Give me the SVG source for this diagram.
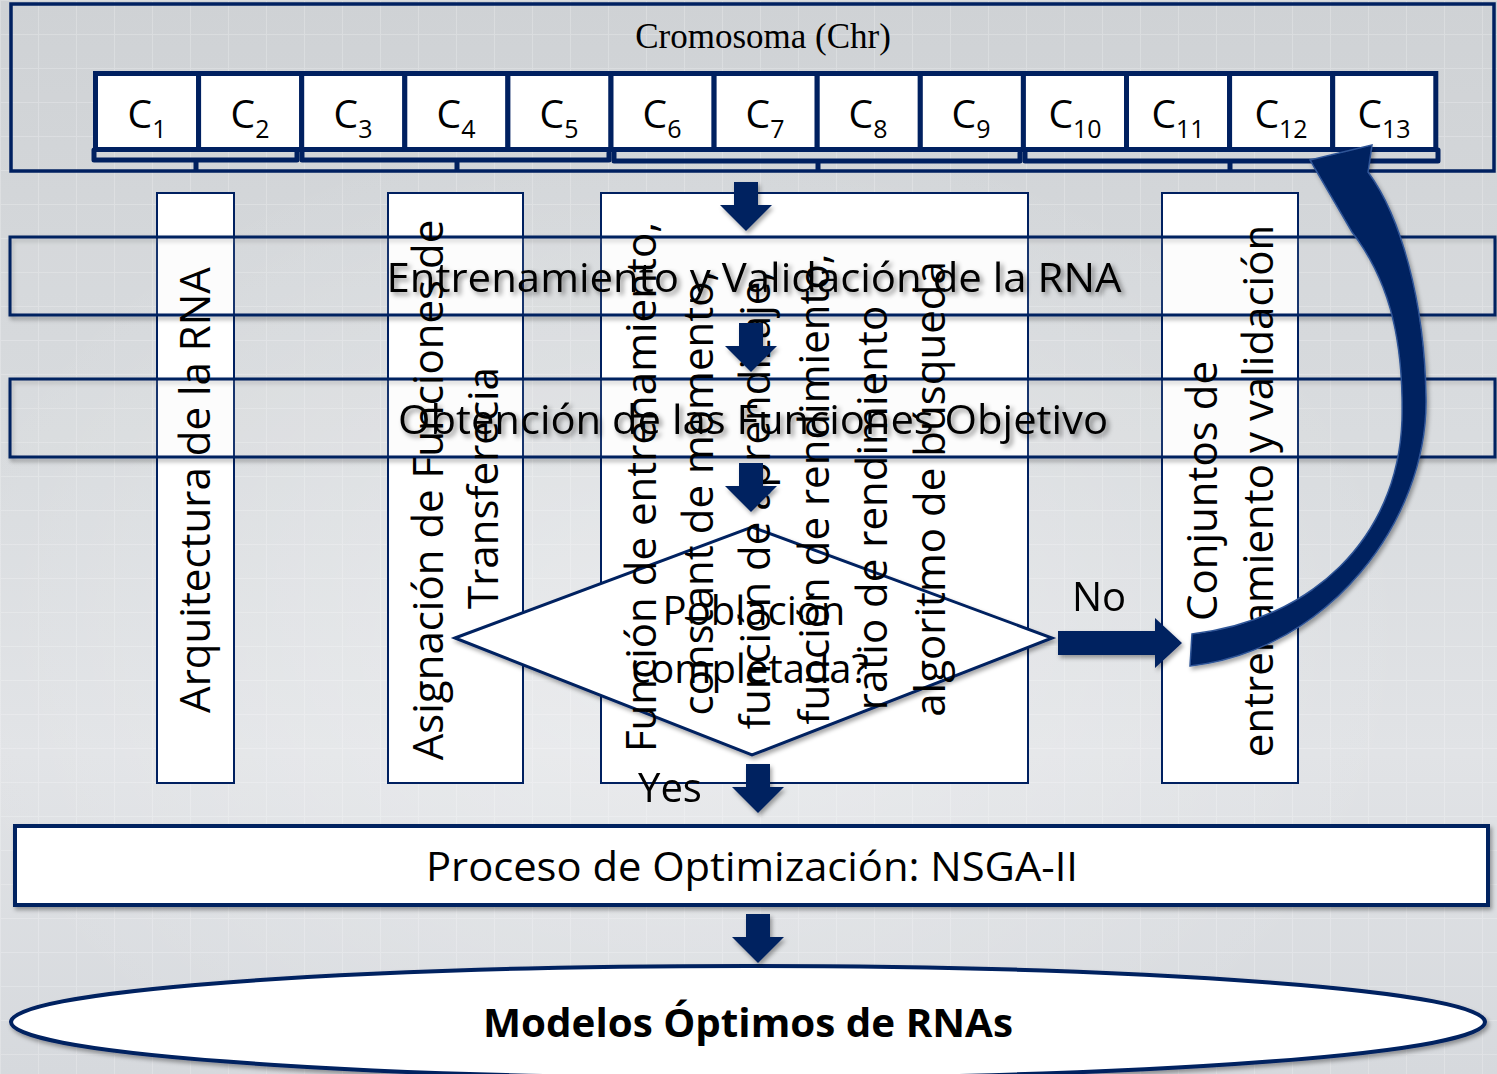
<svg xmlns="http://www.w3.org/2000/svg" xmlns:xlink="http://www.w3.org/1999/xlink" width="1497" height="1074" viewBox="0 0 1497 1074">
  <defs>
    <linearGradient id="bg" x1="0" y1="0" x2="0" y2="1">
      <stop offset="0" stop-color="#cfd2d5"/>
      <stop offset="0.45" stop-color="#d9dcdf"/>
      <stop offset="0.7" stop-color="#e1e3e6"/>
      <stop offset="1" stop-color="#d6d9dd"/>
    </linearGradient>
    <radialGradient id="glow" cx="0.45" cy="0.6" r="0.5">
      <stop offset="0" stop-color="#ffffff" stop-opacity="0.35"/>
      <stop offset="1" stop-color="#ffffff" stop-opacity="0"/>
    </radialGradient>
    <pattern id="grid" width="38" height="34" patternUnits="userSpaceOnUse">
      <path d="M0,0.5 H38 M0.5,0 V34" fill="none" stroke="#ffffff" stroke-width="1"/>
    </pattern>
    <filter id="shadow" x="-5%" y="-20%" width="110%" height="140%">
      <feDropShadow dx="2" dy="3" stdDeviation="2" flood-color="#000" flood-opacity="0.35"/>
    </filter>
    <filter id="tshadow" x="-5%" y="-30%" width="110%" height="160%">
      <feDropShadow dx="3" dy="3" stdDeviation="2.5" flood-color="#000" flood-opacity="0.45"/>
    </filter>
    <path id="dn" d="M-12,0 H12 V23 H26 L0,49 L-26,23 H-12 Z"/>
    <style>
      .nv { fill: none; stroke: #002060; }
      .cell { fill: #ffffff; stroke: #002060; stroke-width: 5; }
      .col { fill: #ffffff; stroke: #002060; stroke-width: 2; }
      .band { fill: #ffffff; fill-opacity: 0.08; stroke: #002060; stroke-width: 3; }
      .brk { fill: none; stroke: #002060; stroke-width: 5; stroke-linejoin: round; stroke-linecap: round; }
      .stem { fill: none; stroke: #002060; stroke-width: 5; }
      .arr { fill: #002060; }
      .t { font-family: "Open Sans", "DejaVu Sans", sans-serif; fill: #000000; }
      .cl { font-family: "Open Sans", "DejaVu Sans", sans-serif; font-size: 39px; fill: #000000; text-anchor: middle; }
      .vt { font-family: "Open Sans", "DejaVu Sans", sans-serif; font-size: 42px; fill: #000000; text-anchor: middle; }
    </style>
  </defs>

  <!-- backdrop -->
  <rect width="1497" height="1074" fill="url(#bg)"/>
  <rect width="1497" height="1074" fill="url(#grid)" opacity="0.22"/>
  <rect width="1497" height="1074" fill="url(#glow)"/>

  <!-- chromosome -->
  <g id="chromosome">
    <rect x="11" y="4" width="1483" height="167" class="nv" stroke-width="3.5"/>
    <text x="763" y="48" font-family="Liberation Serif, serif" font-size="35" text-anchor="middle" fill="#000">Cromosoma (Chr)</text>
    <g id="genes">
      <rect class="cell" x="95.5" y="73.5" width="103.1" height="76"/>
      <rect class="cell" x="198.6" y="73.5" width="103.1" height="76"/>
      <rect class="cell" x="301.7" y="73.5" width="103.1" height="76"/>
      <rect class="cell" x="404.8" y="73.5" width="103.1" height="76"/>
      <rect class="cell" x="507.9" y="73.5" width="103.1" height="76"/>
      <rect class="cell" x="611" y="73.5" width="103.1" height="76"/>
      <rect class="cell" x="714.1" y="73.5" width="103.1" height="76"/>
      <rect class="cell" x="817.2" y="73.5" width="103.1" height="76"/>
      <rect class="cell" x="920.3" y="73.5" width="103.1" height="76"/>
      <rect class="cell" x="1023.4" y="73.5" width="103.1" height="76"/>
      <rect class="cell" x="1126.5" y="73.5" width="103.1" height="76"/>
      <rect class="cell" x="1229.6" y="73.5" width="103.1" height="76"/>
      <rect class="cell" x="1332.7" y="73.5" width="103.1" height="76"/>
      <text class="cl" x="147" y="128">C<tspan font-size="25" dy="10">1</tspan></text>
      <text class="cl" x="250" y="128">C<tspan font-size="25" dy="10">2</tspan></text>
      <text class="cl" x="353" y="128">C<tspan font-size="25" dy="10">3</tspan></text>
      <text class="cl" x="456" y="128">C<tspan font-size="25" dy="10">4</tspan></text>
      <text class="cl" x="559" y="128">C<tspan font-size="25" dy="10">5</tspan></text>
      <text class="cl" x="662" y="128">C<tspan font-size="25" dy="10">6</tspan></text>
      <text class="cl" x="765" y="128">C<tspan font-size="25" dy="10">7</tspan></text>
      <text class="cl" x="868" y="128">C<tspan font-size="25" dy="10">8</tspan></text>
      <text class="cl" x="971" y="128">C<tspan font-size="25" dy="10">9</tspan></text>
      <text class="cl" x="1075" y="128">C<tspan font-size="25" dy="10">10</tspan></text>
      <text class="cl" x="1178" y="128">C<tspan font-size="25" dy="10">11</tspan></text>
      <text class="cl" x="1281" y="128">C<tspan font-size="25" dy="10">12</tspan></text>
      <text class="cl" x="1384" y="128">C<tspan font-size="25" dy="10">13</tspan></text>
    </g>
    <!-- gene groupings -->
    <g id="groups">
      <path class="brk" d="M94,150 V160 H297 V152"/>
      <path class="stem" d="M196,160 V171"/>
      <path class="brk" d="M302,152 V160 H609 V153"/>
      <path class="stem" d="M457,160 V171"/>
      <path class="brk" d="M614,152 V161 H1020 V153"/>
      <path class="stem" d="M818,161 V171"/>
      <path class="brk" d="M1025,152 V161 H1438 V150"/>
      <path class="stem" d="M1230,161 V171"/>
    </g>
  </g>

  <!-- parameter columns -->
  <g id="col-arquitectura"><rect class="col" x="157" y="193" width="77" height="590"/></g>
  <g id="col-asignacion"><rect class="col" x="388" y="193" width="135" height="590"/></g>
  <g id="col-funciones"><rect class="col" x="601" y="193" width="427" height="590"/></g>
  <g id="col-conjuntos"><rect class="col" x="1162" y="193" width="136" height="590"/></g>

  <!-- process bands -->
  <g id="band-entrenamiento">
    <rect class="band" x="10" y="237" width="1485" height="78" filter="url(#shadow)"/>
    <text class="t" x="754" y="292" font-size="40" text-anchor="middle" textLength="735" lengthAdjust="spacingAndGlyphs" filter="url(#tshadow)">Entrenamiento y Validación de la RNA</text>
  </g>
  <g id="band-objetivo">
    <rect class="band" x="10" y="379" width="1485" height="78" filter="url(#shadow)"/>
    <text class="t" x="753" y="434" font-size="40" text-anchor="middle" textLength="710" lengthAdjust="spacingAndGlyphs" filter="url(#tshadow)">Obtención de las Funciones Objetivo</text>
  </g>

  <!-- decision -->
  <g id="decision">
    <polygon points="455,638 752,527 1052,638 752,755" fill="#ffffff" stroke="#002060" stroke-width="3" filter="url(#shadow)"/>
    <text class="t" x="754" y="625" font-size="40" text-anchor="middle">Población</text>
    <text class="t" x="750" y="683" font-size="40" text-anchor="middle">completada?</text>
  </g>

  <!-- column labels -->
  <g id="col-labels">
    <text class="vt" transform="translate(210,490) rotate(-90)">Arquitectura de la RNA</text>
    <text class="vt" transform="translate(443,490) rotate(-90)">Asignación de Funciones de</text>
    <text class="vt" transform="translate(498,488) rotate(-90)">Transferecia</text>
    <text class="vt" transform="translate(656,487) rotate(-90)">Función de entrenamiento,</text>
    <text class="vt" transform="translate(713,493) rotate(-90)">constant de momento,</text>
    <text class="vt" transform="translate(770,500) rotate(-90)">función de aprendizaje,</text>
    <text class="vt" transform="translate(829,489) rotate(-90)">función de rendimiento,</text>
    <text class="vt" transform="translate(887,508) rotate(-90)">ratio de rendimiento</text>
    <text class="vt" transform="translate(945,489) rotate(-90)">algoritmo de búsqueda</text>
    <text class="vt" transform="translate(1217,491) rotate(-90)">Conjuntos de</text>
    <text class="vt" transform="translate(1273,491) rotate(-90)">entrenamiento y validación</text>
  </g>

  <!-- optimisation and result -->
  <g id="proceso">
    <rect x="15" y="826" width="1473" height="79" fill="#ffffff" stroke="#002060" stroke-width="4" filter="url(#shadow)"/>
    <text class="t" x="752" y="881" font-size="40" text-anchor="middle" textLength="652" lengthAdjust="spacingAndGlyphs">Proceso de Optimización: NSGA-II</text>
  </g>
  <g id="modelos">
    <ellipse cx="748" cy="1022" rx="737" ry="56" fill="#ffffff" stroke="#002060" stroke-width="4" filter="url(#shadow)"/>
    <text class="t" x="748" y="1037" font-size="40" font-weight="bold" text-anchor="middle" textLength="530" lengthAdjust="spacingAndGlyphs">Modelos Óptimos de RNAs</text>
  </g>

  <!-- connectors -->
  <g id="connectors" filter="url(#shadow)">
    <use href="#dn" class="arr" x="746" y="182"/>
    <use href="#dn" class="arr" x="751" y="323"/>
    <use href="#dn" class="arr" x="751" y="463"/>
    <use href="#dn" class="arr" x="758" y="764"/>
    <use href="#dn" class="arr" x="758" y="914"/>
    <path class="arr" d="M1058,631 H1155 V618 L1182,643 L1155,668 V655 H1058 Z"/>
    <path class="arr" stroke="#2f5597" stroke-width="1.5" d="M1310,160 L1372,145 L1368,172 C1400,215 1425,300 1426,400 C1427,520 1330,650 1190,666 L1192,634 C1310,620 1398,540 1402,420 C1404,330 1385,275 1352,232 Z"/>
  </g>
  <text class="t" x="1099" y="611" font-size="40" text-anchor="middle">No</text>
  <text class="t" x="670" y="802" font-size="40" text-anchor="middle">Yes</text>
</svg>
